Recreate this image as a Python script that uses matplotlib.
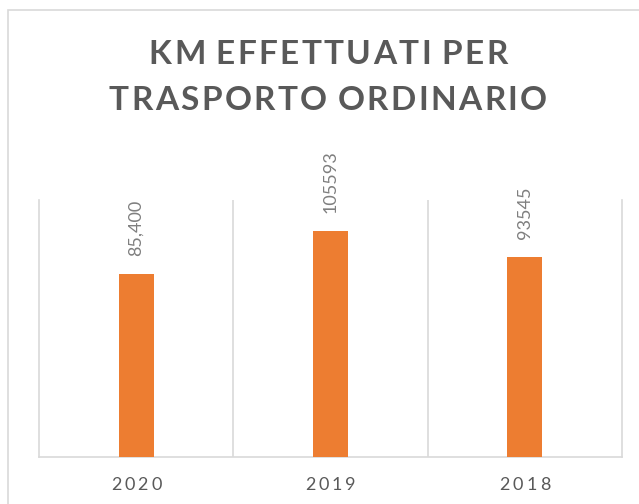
import matplotlib.pyplot as plt
from matplotlib.patches import Rectangle

# Data
years = ["2020", "2019", "2018"]
km = [85400, 105593, 93545]
km_labels = ["85,400", "105593", "93545"]

TITLE = ["KM EFFETTUATI PER", "TRASPORTO ORDINARIO"]
ORANGE = "#ED7D31"
GRAY_TXT = "#595959"
GRID = "#D9D9D9"

W, H = 639, 504
fig = plt.figure(figsize=(W / 100, H / 100), dpi=100)

# outer chart frame (cut off at right and bottom)
fig.patches.append(Rectangle((8 / W, -0.1), 1.2, 1 - 10 / H + 0.1,
                             transform=fig.transFigure, fill=False,
                             edgecolor=GRID, linewidth=1.2))

AX_L, AX_R, AX_T, AX_B = 39, 622, 200, 457
ax = fig.add_axes([AX_L / W, (H - AX_B) / H, (AX_R - AX_L) / W, (AX_B - AX_T) / H])
x = range(len(years))
ax.bar(x, km, width=0.18, color=ORANGE, zorder=3)
ax.set_xlim(-0.5, 2.5)
ax.set_ylim(0, 120000)

for b in [0.5, 1.5]:
    ax.axvline(b, color=GRID, linewidth=1.2, zorder=1)
ax.spines["top"].set_visible(False)
for side in ["left", "right", "bottom"]:
    ax.spines[side].set_color(GRID)
    ax.spines[side].set_linewidth(1.2)
ax.set_yticks([])
ax.set_xticks(list(x))
ax.set_xticklabels([])
ax.tick_params(axis="x", length=0)

renderer = fig.canvas.get_renderer()


def spaced_text(xc, yc, s, spacing, space_w=0.3, **kw):
    """Draw text centered at (xc, yc) in pixels with extra letter spacing."""
    widths = []
    for ch in s:
        t = fig.text(0, 0, ch if ch != " " else "n", **kw)
        w = t.get_window_extent(renderer).width
        if ch == " ":
            w *= space_w
        widths.append(w)
        t.remove()
    total = sum(widths) + spacing * (len(s) - 1)
    cur = xc - total / 2
    for ch, w in zip(s, widths):
        if ch != " ":
            fig.text(cur / W, yc / H, ch, ha="left", va="center", **kw)
        cur += w + spacing


# title
for i, line in enumerate(TITLE):
    spaced_text(328, H - (55 + 46 * i), line, 2.4,
                fontsize=24, fontweight="bold", family="Lato", color=GRAY_TXT)

# year labels
for i, yr in enumerate(years):
    px = AX_L + (AX_R - AX_L) * (i + 0.5) / 3
    spaced_text(px, H - 485, yr, 3.0,
                fontsize=13, family="Lato", color=GRAY_TXT)

# data labels
for i, (v, lab) in enumerate(zip(km, km_labels)):
    ax.annotate(lab, (i, v), xytext=(0, 13), textcoords="offset points",
                rotation=90, ha="center", va="bottom", fontsize=13,
                family="Lato", color="#7F7F7F")

fig.savefig("out.png", dpi=100)
